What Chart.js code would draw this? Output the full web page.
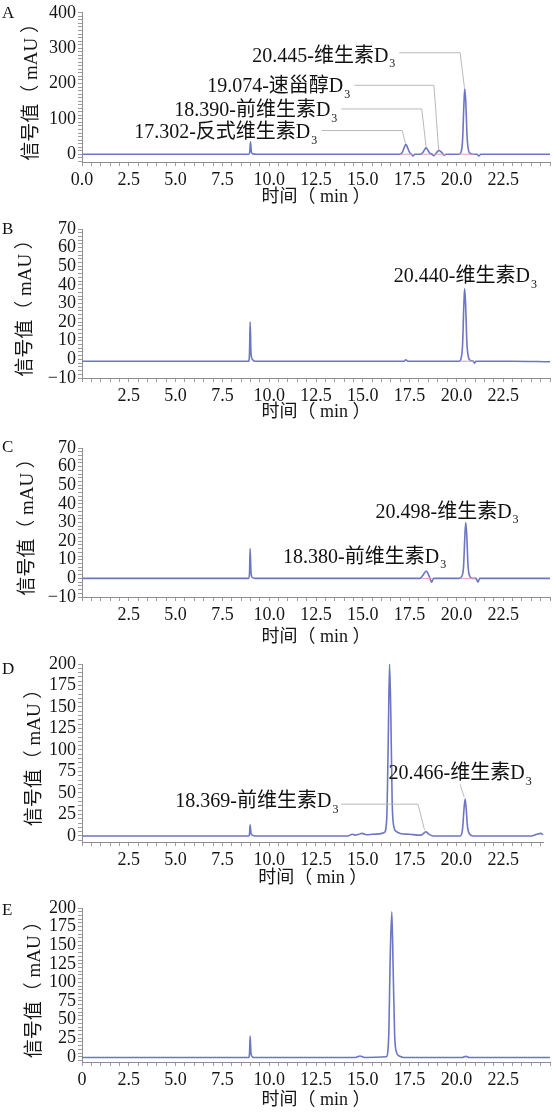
<!DOCTYPE html>
<html><head><meta charset="utf-8">
<script src="https://cdn.jsdelivr.net/npm/chart.js@4.4.1/dist/chart.umd.min.js"></script>
<style>
html,body{margin:0;padding:0;background:#fff;}
#wrap{position:relative;width:553px;height:1113px;overflow:hidden;background:#fff;}
canvas{position:absolute;left:0;}
.lbl{position:absolute;left:2px;font:17px 'Liberation Serif',serif;color:#111;line-height:17px;}
</style></head><body>
<div id="wrap">
<canvas id="cA" width="553" height="214" style="top:0px"></canvas>
<canvas id="cB" width="553" height="214" style="top:214px"></canvas>
<canvas id="cC" width="553" height="222" style="top:428px"></canvas>
<canvas id="cD" width="553" height="242" style="top:650px"></canvas>
<canvas id="cE" width="553" height="221" style="top:892px"></canvas>
<div class="lbl" style="top:4px">A</div>
<div class="lbl" style="top:220px">B</div>
<div class="lbl" style="top:438px">C</div>
<div class="lbl" style="top:660px">D</div>
<div class="lbl" style="top:901px">E</div>
</div>
<script>
// ---------- data ----------
const timeA   = [0, 4.0, 8.9, 8.96, 9.0, 9.05, 9.12, 9.3, 12.0, 16.95, 17.1, 17.22, 17.3, 17.38, 17.5, 17.6, 17.68, 17.78, 18.1, 18.22, 18.32, 18.39, 18.47, 18.58, 18.7, 18.8, 18.9, 19.0, 19.07, 19.15, 19.25, 19.35, 19.45, 20.15, 20.25, 20.33, 20.4, 20.445, 20.5, 20.57, 20.65, 20.75, 20.9, 21.1, 21.2, 21.3, 25];
const signalA = [0, 0, 0, 5, 35, 6, 1, 0, 0, 0, 4, 20, 28, 20, 5, 0, -5, 0, 0, 6, 15, 18, 12, 3, 0, -4, 2, 8, 11, 8, 3, -3, 0, 0, 6, 40, 140, 185, 150, 50, 10, 2, 0, 0, -5, 0, 0];
const pinkStartA = [17.0, 18.15, 18.75, 20.15];
const pinkEndA   = [17.62, 18.65, 19.4, 20.95];
const pinkLevelA = [0, 0, 0, 0];

const timeB   = [0, 5, 8.9, 8.95, 8.98, 9.03, 9.1, 9.25, 13, 17.2, 17.3, 17.4, 20.15, 20.25, 20.33, 20.4, 20.44, 20.49, 20.56, 20.65, 20.75, 20.9, 20.97, 21.05, 23, 25];
const signalB = [-1, -1, -1, 4, 20, 3, 0, -1, -1, -1, -0.2, -1, -1, 0.5, 8, 30, 38, 30, 9, 1, -0.5, -1, -2, -1, -1, -1.3];
const pinkStartB = [20.25];
const pinkEndB   = [20.9];
const pinkLevelB = [-1];

const timeC   = [0, 5, 8.9, 8.95, 8.98, 9.03, 9.1, 9.25, 13, 18.05, 18.2, 18.3, 18.38, 18.46, 18.55, 18.62, 18.68, 18.78, 20.15, 20.28, 20.38, 20.45, 20.498, 20.55, 20.62, 20.72, 20.85, 21.05, 21.15, 21.25, 25];
const signalC = [0, 0, 0, 3, 16, 3, 0.5, 0, 0, 0, 1.5, 3, 4, 3, 1, -1, -2, 0, 0, 1, 6, 22, 30, 24, 7, 1, 0, 0, -2, 0, 0];
const pinkStartC = [18.15, 20.2];
const pinkEndC   = [18.7, 21.0];
const pinkLevelC = [0, 0];

const timeD   = [0, 5, 8.9, 8.95, 8.98, 9.03, 9.1, 9.25, 14.2, 14.45, 14.6, 14.8, 14.95, 15.2, 15.5, 15.9, 16.15, 16.28, 16.36, 16.43, 16.5, 16.57, 16.65, 16.8, 17.0, 17.5, 18.1, 18.25, 18.37, 18.48, 18.62, 18.8, 20.2, 20.33, 20.41, 20.466, 20.52, 20.6, 20.72, 20.9, 24.0, 24.3, 24.5, 24.65];
const signalD = [0, 0, 0, 2, 13, 3, 1, 0, 0, 2, 1, 2, 3, 1.5, 2, 2.5, 4, 20, 110, 200, 140, 40, 12, 5, 3, 2, 1, 3, 5, 3, 1, 0, 0, 8, 32, 43, 33, 10, 2, 0, 0, 2, 3, 1.5];

const timeE   = [0, 5, 8.9, 8.95, 8.98, 9.03, 9.1, 9.25, 14.6, 14.85, 15.1, 16.25, 16.38, 16.47, 16.55, 16.62, 16.7, 16.8, 16.95, 17.2, 20.3, 20.5, 20.7, 25];
const signalE = [-1, -1, -1, 5, 28, 4, 0, -1, -1, 1, -1, 0, 25, 140, 195, 120, 30, 6, 1, -1, -1, 0.5, -1, -1];

// tick labels
const xTicksA   = [0, 2.5, 5, 7.5, 10, 12.5, 15, 17.5, 20, 22.5];
const xTicksBCD = [2.5, 5, 7.5, 10, 12.5, 15, 17.5, 20, 22.5];
const xTicksE   = [0, 2.5, 5, 7.5, 10, 12.5, 15, 17.5, 20, 22.5];
const yTicksA   = [0, 100, 200, 300, 400];
const yTicksBC  = [-10, 0, 10, 20, 30, 40, 50, 60, 70];
const yTicksDE  = [0, 25, 50, 75, 100, 125, 150, 175, 200];

// peak annotations
const peaksA = [
  {text: '20.445-维生素D', sub: '3', x: 16.74, y: 277, align: 'right', leader: [[16.95, 287], [20.2, 287], [20.43, 188]]},
  {text: '19.074-速甾醇D', sub: '3', x: 14.33, y: 190, align: 'right', leader: [[14.55, 195], [18.8, 195], [19.05, 14]]},
  {text: '18.390-前维生素D', sub: '3', x: 13.64, y: 123, align: 'right', leader: [[13.85, 128], [18.15, 128], [18.38, 21]]},
  {text: '17.302-反式维生素D', sub: '3', x: 12.57, y: 61, align: 'right', leader: [[12.8, 67], [17.1, 67], [17.28, 31]]}
];
const peaksB = [{text: '20.440-维生素D', sub: '3', x: 20.48, y: 44.5, align: 'center'}];
const peaksC = [
  {text: '20.498-维生素D', sub: '3', x: 19.5, y: 35.5, align: 'center'},
  {text: '18.380-前维生素D', sub: '3', x: 15.1, y: 11.3, align: 'center'}
];
const peaksD = [
  {text: '18.369-前维生素D', sub: '3', x: 13.7, y: 39.3, align: 'right', leader: [[13.85, 37], [17.95, 37], [18.3, 7]]},
  {text: '20.466-维生素D', sub: '3', x: 20.2, y: 72.8, align: 'center', leader: [[20.2, 60], [20.42, 45]]}
];
const peaksE = [];

// ---------- drawing ----------
const SERIF = "'Liberation Serif', 'Noto Sans CJK SC', serif";
const TRACE = '#6d76c2';
const PINK = '#e79ab8';

function pts(t, v) { return t.map((x, i) => ({x: x, y: v[i]})); }
function pinkPts(s, e, lv) {
  const out = [];
  s.forEach((x, i) => {
    out.push({x: x, y: lv[i]}, {x: e[i], y: lv[i]});
    out.push({x: e[i] + 0.001, y: null});
  });
  return out;
}
function inList(v, list) { return list.find(t => Math.abs(t - v) < 1e-6); }

function labelPlugin(items) {
  return {
    id: 'peakLabels',
    afterDatasetsDraw(chart) {
      const {ctx} = chart; const xs = chart.scales.x, ys = chart.scales.y;
      const mainFont = "20px " + SERIF, subFont = "12px " + SERIF;
      ctx.save();
      items.forEach(it => {
        if (it.leader) {
          ctx.beginPath(); ctx.strokeStyle = '#b9b9b9'; ctx.lineWidth = 1;
          it.leader.forEach((p, i) => {
            const px = xs.getPixelForValue(p[0]), py = ys.getPixelForValue(p[1]);
            if (i) ctx.lineTo(px, py); else ctx.moveTo(px, py);
          });
          ctx.stroke();
        }
        ctx.font = mainFont; const w1 = ctx.measureText(it.text).width;
        ctx.font = subFont; const w2 = ctx.measureText(it.sub).width;
        const total = w1 + 1 + w2;
        const px = xs.getPixelForValue(it.x), py = ys.getPixelForValue(it.y);
        const left = it.align === 'right' ? px - total : (it.align === 'center' ? px - total / 2 : px);
        ctx.fillStyle = '#111'; ctx.textBaseline = 'middle'; ctx.textAlign = 'left';
        ctx.font = mainFont; ctx.fillText(it.text, left, py);
        ctx.font = subFont; ctx.fillText(it.sub, left + w1 + 1, py + 8);
      });
      ctx.restore();
    }
  };
}

function makeChart(id, cfg) {
  const canvas = document.getElementById(id);
  const datasets = [{
    data: pts(cfg.time, cfg.signal), borderColor: TRACE, borderWidth: 1.6,
    pointRadius: 0, cubicInterpolationMode: 'monotone', fill: false, order: 2
  }];
  if (cfg.pink) datasets.push({
    data: cfg.pink, borderColor: PINK, borderWidth: 1, pointRadius: 0, spanGaps: false, fill: false, order: 1
  });
  const gridOpt = {display: true, drawOnChartArea: false, drawTicks: true, tickLength: 4, color: '#9c9c9c', lineWidth: 1};
  const borderOpt = {display: true, color: '#8e8e8e', width: 1};
  new Chart(canvas, {
    type: 'line',
    data: {datasets: datasets},
    plugins: [labelPlugin(cfg.peaks)],
    options: {
      responsive: false, animation: false, devicePixelRatio: 1,
      layout: {padding: {left: 0, right: cfg.padRight, top: cfg.padTop, bottom: 0}},
      plugins: {legend: {display: false}, tooltip: {enabled: false}},
      scales: {
        x: {
          type: 'linear', min: 0, max: cfg.xMax,
          afterFit: s => { s.height = cfg.xBox; },
          grid: gridOpt, border: borderOpt,
          ticks: {
            stepSize: 0.5, autoSkip: false, maxRotation: 0, includeBounds: false, padding: 3,
            color: '#151515', font: {family: SERIF, size: 18},
            callback: v => { const m = inList(v, cfg.xTicks); return m === undefined ? '' : cfg.xFmt(m); }
          },
          title: {display: true, text: '时间（ min ）', color: '#151515', font: {family: SERIF, size: 18},
                  padding: {top: 0, bottom: cfg.xTitlePad}}
        },
        y: {
          min: cfg.yMin, max: cfg.yMax,
          afterFit: s => { s.width = 82; },
          grid: gridOpt, border: borderOpt,
          ticks: {
            stepSize: cfg.yStep, autoSkip: false, includeBounds: false, padding: 2,
            color: '#151515', font: {family: SERIF, size: 18},
            callback: v => { const m = inList(v, cfg.yTicks); return m === undefined ? '' : (m < 0 ? '\u2212' + Math.abs(m) : String(m)); }
          },
          title: {display: true, text: '信号值（ mAU ）', color: '#151515', font: {family: SERIF, size: 19},
                  padding: {top: cfg.yTitlePad, bottom: 0}}
        }
      }
    }
  });
}

const fmt1 = v => v.toFixed(1);
const fmtE = v => v === 0 ? '0' : v.toFixed(1);

function layoutOf(canvasTop, canvasH, plotTop, plotBottom, titleY, titleX) {
  return {padTop: plotTop - canvasTop, xBox: canvasTop + canvasH - plotBottom,
          xTitlePad: Math.max(0, canvasTop + canvasH - titleY - 10.8), yTitlePad: titleX - 11.4};
}

makeChart('cA', Object.assign({time: timeA, signal: signalA, pink: pinkPts(pinkStartA, pinkEndA, pinkLevelA),
  peaks: peaksA, xMax: 25, padRight: 3, yMin: -22, yMax: 400, yStep: 10, yTicks: yTicksA,
  xTicks: xTicksA, xFmt: fmt1}, layoutOf(0, 214, 11, 162, 197, 32)));
makeChart('cB', Object.assign({time: timeB, signal: signalB, pink: pinkPts(pinkStartB, pinkEndB, pinkLevelB),
  peaks: peaksB, xMax: 25, padRight: 3, yMin: -10, yMax: 70, yStep: 2, yTicks: yTicksBC,
  xTicks: xTicksBCD, xFmt: fmt1}, layoutOf(214, 214, 229, 378, 412, 26)));
makeChart('cC', Object.assign({time: timeC, signal: signalC, pink: pinkPts(pinkStartC, pinkEndC, pinkLevelC),
  peaks: peaksC, xMax: 25, padRight: 3, yMin: -10, yMax: 70, yStep: 2, yTicks: yTicksBC,
  xTicks: xTicksBCD, xFmt: fmt1}, layoutOf(428, 222, 448, 597, 637, 28)));
makeChart('cD', Object.assign({time: timeD, signal: signalD, pink: null,
  peaks: peaksD, xMax: 24.65, padRight: 9.6, yMin: -7, yMax: 200, yStep: 5, yTicks: yTicksDE,
  xTicks: xTicksBCD, xFmt: fmt1}, layoutOf(650, 242, 664, 842, 878, 35)));
makeChart('cE', Object.assign({time: timeE, signal: signalE, pink: null,
  peaks: peaksE, xMax: 25, padRight: 3, yMin: -7, yMax: 200, yStep: 5, yTicks: yTicksDE,
  xTicks: xTicksE, xFmt: fmtE}, layoutOf(892, 221, 908, 1062, 1100, 35)));
</script>
</body></html>
